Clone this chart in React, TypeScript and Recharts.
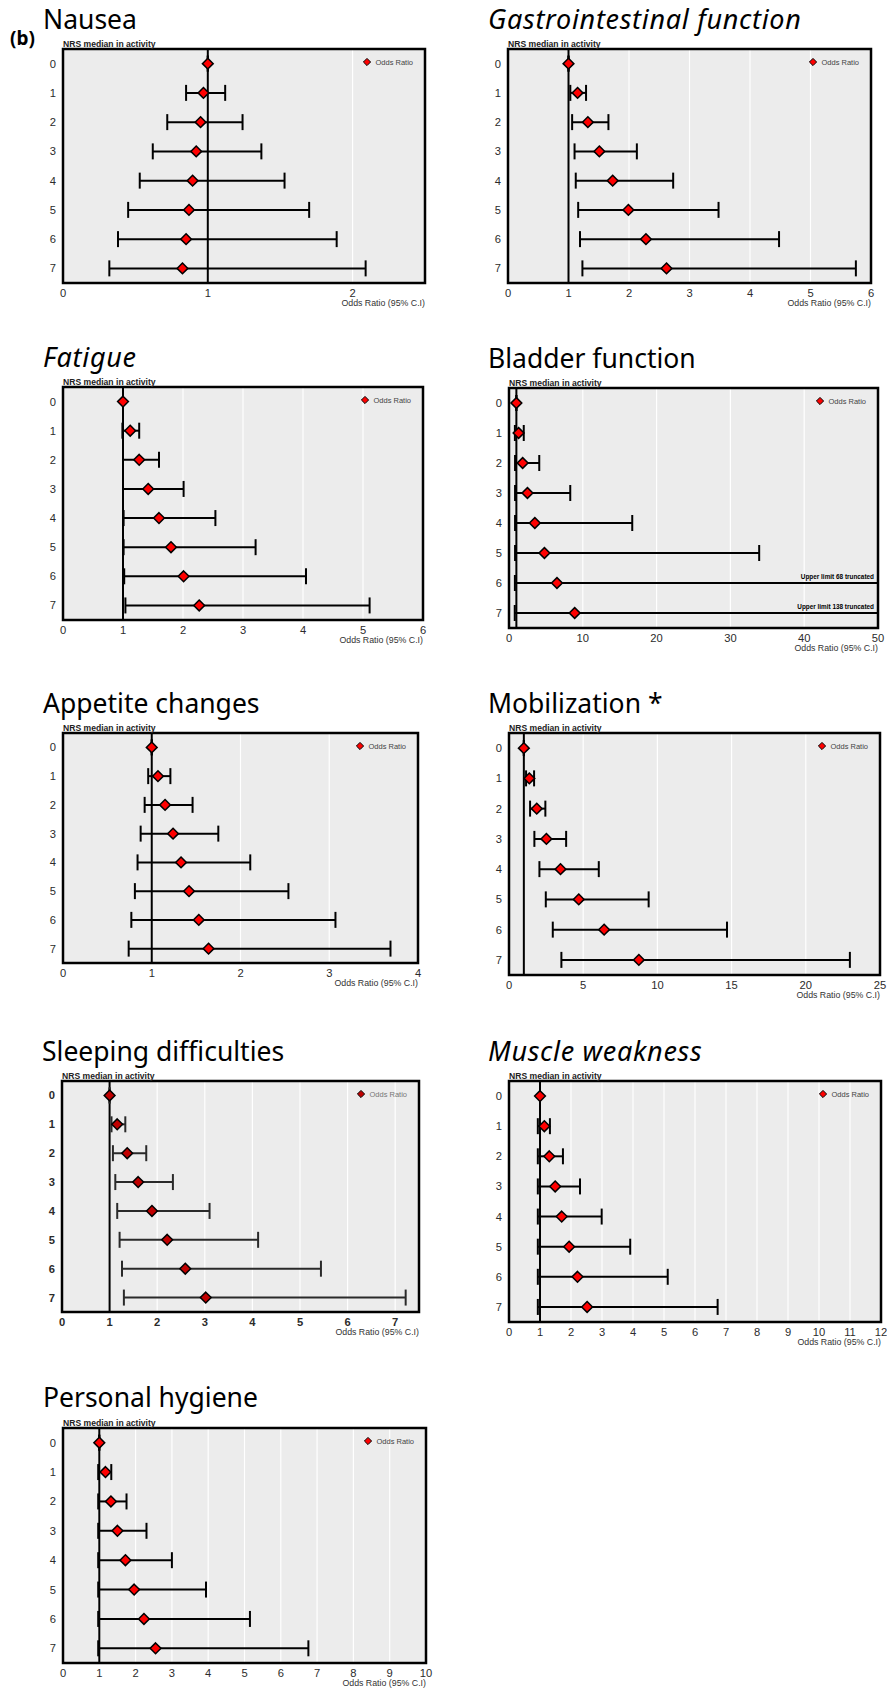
import React from 'react';
import {
  ScatterChart,
  Scatter,
  XAxis,
  YAxis,
  ErrorBar,
  ReferenceLine,
  ReferenceArea,
  CartesianGrid,
} from 'recharts';

// NRS median in activity levels (rows)
const nrsLevels = [0, 1, 2, 3, 4, 5, 6, 7];

// ---- Nausea ----
const nauseaOR = [1.0, 0.97, 0.95, 0.92, 0.895, 0.87, 0.85, 0.825];
const nauseaLow = [1.0, 0.85, 0.72, 0.62, 0.53, 0.45, 0.38, 0.32];
const nauseaHigh = [1.0, 1.12, 1.24, 1.37, 1.53, 1.7, 1.89, 2.09];
const nauseaTicks = [0, 1, 2];

// ---- Gastrointestinal function ----
const gastroOR = [1.0, 1.15, 1.32, 1.51, 1.73, 1.99, 2.28, 2.62];
const gastroLow = [1.0, 1.03, 1.06, 1.1, 1.12, 1.16, 1.19, 1.23];
const gastroHigh = [1.0, 1.29, 1.66, 2.13, 2.73, 3.48, 4.48, 5.75];
const gastroTicks = [0, 1, 2, 3, 4, 5, 6];

// ---- Fatigue ----
const fatigueOR = [1.0, 1.12, 1.27, 1.42, 1.6, 1.8, 2.01, 2.27];
const fatigueLow = [1.0, 0.99, 1.0, 1.0, 1.01, 1.01, 1.02, 1.04];
const fatigueHigh = [1.0, 1.27, 1.6, 2.01, 2.54, 3.21, 4.05, 5.11];
const fatigueTicks = [0, 1, 2, 3, 4, 5, 6];

// ---- Bladder function ----
const bladderOR = [1.0, 1.3, 1.85, 2.5, 3.5, 4.8, 6.5, 8.9];
const bladderLow = [1.0, 0.8, 0.82, 0.82, 0.82, 0.82, 0.8, 0.78];
const bladderHigh = [1.0, 2.0, 4.1, 8.3, 16.7, 33.9, 68, 138];
const bladderTicks = [0, 10, 20, 30, 40, 50];

// ---- Appetite changes ----
const appetiteOR = [1.0, 1.07, 1.15, 1.24, 1.33, 1.42, 1.53, 1.64];
const appetiteLow = [1.0, 0.96, 0.92, 0.875, 0.84, 0.81, 0.77, 0.74];
const appetiteHigh = [1.0, 1.21, 1.46, 1.75, 2.11, 2.54, 3.07, 3.69];
const appetiteTicks = [0, 1, 2, 3, 4];

// ---- Mobilization ----
const mobilOR = [1.0, 1.37, 1.87, 2.52, 3.47, 4.7, 6.41, 8.75];
const mobilLow = [1.0, 1.15, 1.42, 1.71, 2.05, 2.48, 2.95, 3.53];
const mobilHigh = [1.0, 1.69, 2.45, 3.85, 6.05, 9.41, 14.69, 22.97];
const mobilTicks = [0, 5, 10, 15, 20, 25];

// ---- Sleeping difficulties ----
const sleepOR = [1.0, 1.16, 1.37, 1.6, 1.89, 2.21, 2.59, 3.02];
const sleepLow = [1.0, 1.04, 1.07, 1.12, 1.16, 1.21, 1.26, 1.3];
const sleepHigh = [1.0, 1.33, 1.77, 2.33, 3.1, 4.12, 5.44, 7.22];
const sleepTicks = [0, 1, 2, 3, 4, 5, 6, 7];

// ---- Muscle weakness ----
const muscleOR = [1.0, 1.14, 1.3, 1.49, 1.7, 1.94, 2.21, 2.52];
const muscleLow = [1.0, 0.93, 0.93, 0.93, 0.93, 0.93, 0.93, 0.93];
const muscleHigh = [1.0, 1.32, 1.74, 2.29, 2.99, 3.91, 5.12, 6.73];
const muscleTicks = [0, 1, 2, 3, 4, 5, 6, 7, 8, 9, 10, 11, 12];

// ---- Personal hygiene ----
const hygieneOR = [1.0, 1.17, 1.32, 1.5, 1.72, 1.96, 2.23, 2.55];
const hygieneLow = [1.0, 0.97, 0.97, 0.97, 0.97, 0.97, 0.97, 0.97];
const hygieneHigh = [1.0, 1.33, 1.75, 2.3, 3.0, 3.94, 5.15, 6.76];
const hygieneTicks = [0, 1, 2, 3, 4, 5, 6, 7, 8, 9, 10];

const panels = [
  { title: 'Nausea', italic: false, or: nauseaOR, low: nauseaLow, high: nauseaHigh, xMax: 2.5, xTicks: nauseaTicks, minor: 0.25 },
  { title: 'Gastrointestinal function', italic: true, or: gastroOR, low: gastroLow, high: gastroHigh, xMax: 6, xTicks: gastroTicks, minor: 0.25 },
  { title: 'Fatigue', italic: true, or: fatigueOR, low: fatigueLow, high: fatigueHigh, xMax: 6, xTicks: fatigueTicks, minor: 0.25 },
  { title: 'Bladder function', italic: false, or: bladderOR, low: bladderLow, high: bladderHigh, xMax: 50, xTicks: bladderTicks, minor: 2.5, truncate: true },
  { title: 'Appetite changes', italic: false, or: appetiteOR, low: appetiteLow, high: appetiteHigh, xMax: 4, xTicks: appetiteTicks, minor: 0.25 },
  { title: 'Mobilization *', italic: false, or: mobilOR, low: mobilLow, high: mobilHigh, xMax: 25, xTicks: mobilTicks, minor: 1 },
  { title: 'Sleeping difficulties', italic: false, or: sleepOR, low: sleepLow, high: sleepHigh, xMax: 7.5, xTicks: sleepTicks, minor: 0.25, blurry: true },
  { title: 'Muscle weakness', italic: true, or: muscleOR, low: muscleLow, high: muscleHigh, xMax: 12, xTicks: muscleTicks, minor: 0.25 },
  { title: 'Personal hygiene', italic: false, or: hygieneOR, low: hygieneLow, high: hygieneHigh, xMax: 10, xTicks: hygieneTicks, minor: 0.25 },
];

// layout (plot rectangles and title anchors), in page pixels
const layout = [
  { l: 63, t: 49, r: 425, b: 283, tx: 43, ty: 29 },
  { l: 508, t: 49, r: 871, b: 283, tx: 488, ty: 29 },
  { l: 63, t: 387, r: 423, b: 620, tx: 43, ty: 367 },
  { l: 509, t: 388, r: 878, b: 628, tx: 488, ty: 368 },
  { l: 63, t: 733, r: 418, b: 963, tx: 43, ty: 713 },
  { l: 509, t: 733, r: 880, b: 975, tx: 488, ty: 713 },
  { l: 62, t: 1081, r: 419, b: 1312, tx: 42, ty: 1061 },
  { l: 509, t: 1081, r: 881, b: 1322, tx: 488, ty: 1061 },
  { l: 63, t: 1428, r: 426, b: 1663, tx: 43, ty: 1407 },
];

const ARIAL = '"Liberation Sans", Arial, sans-serif';
const TITLE_FONT = '"Noto Sans", "Open Sans", sans-serif';

const WY = 30;
const MT = 10;
const MR = 14;
const HX = 34;

function Panel({ p, g }: { p: any; g: any }) {
  const width = WY + (g.r - g.l) + MR;
  const height = MT + (g.b - g.t) + HX;
  const data = nrsLevels.map((lvl, i) => {
    // upper limits beyond the axis are truncated at the plot edge
    const shownHigh = Math.min(p.high[i], p.xMax);
    return {
      nrs: lvl,
      or: p.or[i],
      err: [p.or[i] - p.low[i], shownHigh - p.or[i]],
    };
  });
  const minorTicks: number[] = [];
  for (let k = 1; k * p.minor < p.xMax - 1e-9; k++) minorTicks.push(+(k * p.minor).toFixed(4));
  const lineColor = p.blurry ? '#2a2a2a' : '#000';
  const fillColor = p.blurry ? '#c00000' : '#ff0000';
  const tickStyle = {
    fontSize: 11.2,
    fill: '#2b2b2b',
    fontFamily: ARIAL,
    fontWeight: p.blurry ? 700 : 400,
  };
  const diamond = (props: any) => {
    const { cx, cy } = props;
    if (cx == null || cy == null) return <g />;
    const s = 5.4;
    return (
      <polygon
        points={`${cx},${cy - s} ${cx + s},${cy} ${cx},${cy + s} ${cx - s},${cy}`}
        fill={fillColor}
        stroke="#000"
        strokeWidth={1.5}
      />
    );
  };
  return (
    <div style={{ position: 'absolute', left: g.l - WY, top: g.t - MT }}>
      <ScatterChart width={width} height={height} margin={{ top: MT, right: MR, bottom: 0, left: 0 }}>
        <CartesianGrid horizontal={false} vertical={true} stroke="#ffffff" strokeWidth={1.2} fill="#ececec" fillOpacity={1} />
        <XAxis
          type="number"
          dataKey="or"
          domain={[0, p.xMax]}
          ticks={p.xTicks}
          allowDataOverflow
          height={HX}
          tickLine={false}
          axisLine={false}
          tickSize={0}
          tickMargin={6}
          tick={tickStyle}
          interval={0}
        />
        <XAxis
          xAxisId="minor"
          type="number"
          domain={[0, p.xMax]}
          ticks={minorTicks}
          allowDataOverflow
          orientation="bottom"
          mirror
          height={1}
          tick={false}
          axisLine={false}
          tickLine={{ stroke: '#ffffff', strokeWidth: 1 }}
          tickSize={3}
          interval={0}
        />
        <YAxis
          type="number"
          dataKey="nrs"
          domain={[-0.5, 7.5]}
          ticks={nrsLevels}
          reversed
          allowDataOverflow
          width={WY}
          tickLine={false}
          axisLine={false}
          tickSize={0}
          tickMargin={7}
          tick={tickStyle}
          interval={0}
        />
        <YAxis
          yAxisId="inner"
          type="number"
          domain={[-0.5, 7.5]}
          ticks={nrsLevels}
          reversed
          allowDataOverflow
          mirror
          width={1}
          tick={false}
          axisLine={false}
          tickLine={{ stroke: '#000', strokeWidth: 1.3 }}
          tickSize={6}
          interval={0}
        />
        <ReferenceLine x={1} stroke="#000" strokeWidth={2} ifOverflow="visible" />
        {p.truncate &&
          [6, 7].map((row) => (
            <ReferenceLine
              key={row}
              y={row}
              stroke="none"
              ifOverflow="visible"
              label={{
                value: `Upper limit ${p.high[row]} truncated`,
                position: 'insideBottomRight',
                offset: 4,
                fontSize: 6.4,
                fontWeight: 700,
                fill: '#000',
                fontFamily: ARIAL,
              }}
            />
          ))}
        <Scatter data={data} isAnimationActive={false} shape={diamond} fill={fillColor}>
          <ErrorBar dataKey="err" direction="x" width={8} stroke={lineColor} strokeWidth={2} isAnimationActive={false} />
        </Scatter>
        <ReferenceArea
          x1={0}
          x2={p.xMax}
          y1={-0.5}
          y2={7.5}
          fill="none"
          fillOpacity={0}
          stroke="#000"
          strokeWidth={2.5}
          ifOverflow="visible"
        />
      </ScatterChart>
    </div>
  );
}

export default function App() {
  return (
    <div
      style={{
        position: 'absolute',
        left: 0,
        top: 0,
        width: 887,
        height: 1691,
        background: '#fff',
        overflow: 'hidden',
      }}
    >
      {panels.map((p, i) => (
        <Panel key={i} p={p} g={layout[i]} />
      ))}
      <svg
        width={887}
        height={1691}
        style={{ position: 'absolute', left: 0, top: 0, pointerEvents: 'none' }}
      >
        <text x={10} y={45} fontFamily={TITLE_FONT} fontWeight={700} fontSize={19} fill="#000">
          (b)
        </text>
        {panels.map((p, i) => {
          const g = layout[i];
          const legendColor = p.blurry ? '#777' : '#444';
          const markFill = p.blurry ? '#c00000' : '#ff0000';
          const dx = g.r - 58;
          const dy = g.t + 13;
          return (
            <g key={i}>
              <text
                x={g.tx}
                y={g.ty}
                fontFamily={TITLE_FONT}
                fontSize={p.italic ? 27 : 26.5}
                letterSpacing={p.italic ? 0.7 : 0}
                fontStyle={p.italic ? 'italic' : 'normal'}
                fill="#000"
              >
                {p.title}
              </text>
              <text x={g.l} y={g.t - 2.5} fontFamily={ARIAL} fontWeight={700} fontSize={8.6} fill="#222">
                NRS median in activity
              </text>
              <text x={g.r} y={g.b + 23} textAnchor="end" fontFamily={ARIAL} fontSize={8.8} fill="#333">
                Odds Ratio (95% C.I)
              </text>
              <polygon
                points={`${dx},${dy - 3.6} ${dx + 3.6},${dy} ${dx},${dy + 3.6} ${dx - 3.6},${dy}`}
                fill={markFill}
                stroke="#000"
                strokeWidth={1}
              />
              <text x={g.r - 12} y={dy + 2.8} textAnchor="end" fontFamily={ARIAL} fontSize={7.5} fill={legendColor}>
                Odds Ratio
              </text>
            </g>
          );
        })}
      </svg>
    </div>
  );
}
